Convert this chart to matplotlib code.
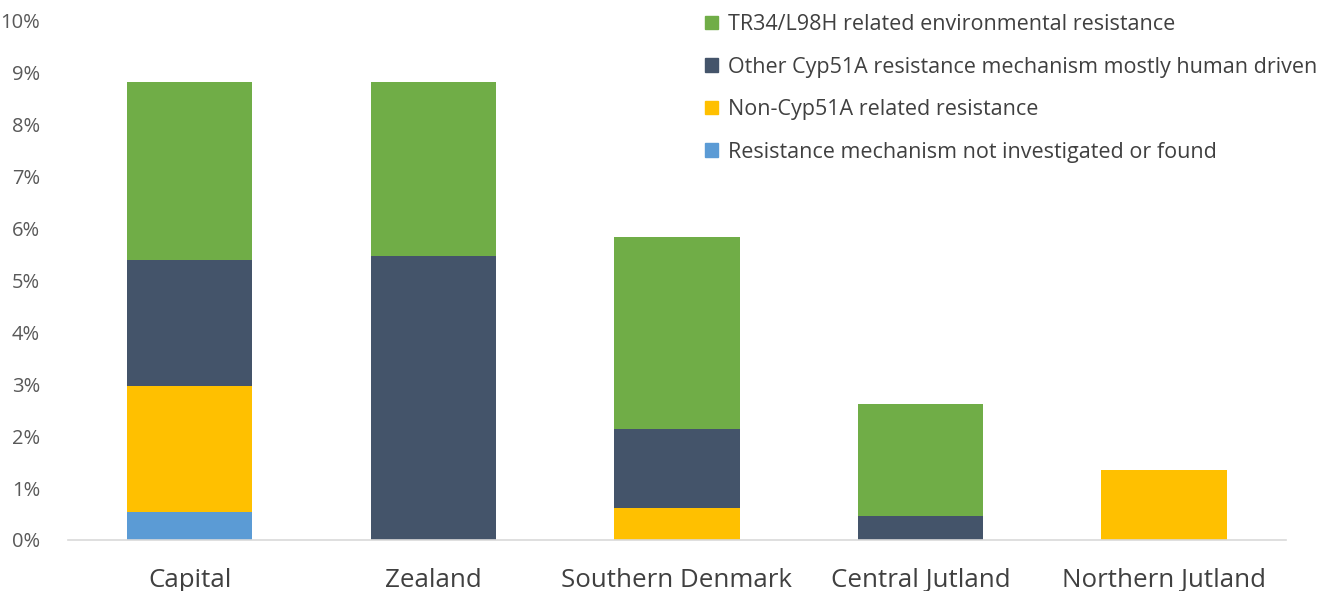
import matplotlib
matplotlib.use("Agg")
import matplotlib.pyplot as plt
import numpy as np
from matplotlib.patches import Patch

plt.rcParams['font.family'] = ['Open Sans', 'DejaVu Sans']

regions = ["Capital", "Zealand", "Southern Denmark", "Central Jutland", "Northern Jutland"]
not_investigated = [0.54, 0.0, 0.0, 0.0, 0.0]
non_cyp51a = [2.42, 0.0, 0.62, 0.0, 1.35]
other_cyp51a = [2.42, 5.47, 1.52, 0.46, 0.0]
tr34 = [3.42, 3.33, 3.68, 2.16, 0.0]

series = [
    ("Resistance mechanism not investigated or found", not_investigated, "#5B9BD5"),
    ("Non-Cyp51A related resistance", non_cyp51a, "#FFC000"),
    ("Other Cyp51A resistance mechanism mostly human driven", other_cyp51a, "#44546A"),
    ("TR34/L98H related environmental resistance", tr34, "#70AD47"),
]

fig = plt.figure(figsize=(13.38, 5.91), dpi=100)
ax = fig.add_axes([0.0508, 0.0863, 0.9102, 0.8797])

x = np.arange(len(regions))
bottom = np.zeros(len(regions))
for name, vals, col in series:
    v = np.array(vals)
    ax.bar(x, v, 0.515, bottom=bottom, color=col, label=name, zorder=2)
    bottom += v

ax.set_xlim(-0.5, 4.5)
ax.set_ylim(0, 10)
ax.set_yticks(np.arange(0, 11, 1))
ax.set_yticklabels([f"{i}%" for i in range(11)], fontsize=14.5, color="#595959")
ax.set_xticks(x)
ax.set_xticklabels(regions, fontsize=18.6, color="#404040")
ax.tick_params(axis='both', length=0)
ax.tick_params(axis='y', pad=20)
ax.tick_params(axis='x', pad=20)
for s in ["top", "right", "left"]:
    ax.spines[s].set_visible(False)
ax.spines["bottom"].set_color("#D9D9D9")
ax.spines["bottom"].set_linewidth(1.2)

handles = [Patch(color=c, label=n) for n, _, c in reversed(series)]
leg = ax.legend(handles=handles, loc="upper left", bbox_to_anchor=(0.507, 1.049),
                frameon=False, fontsize=15.5, handlelength=0.6, handleheight=0.6,
                handletextpad=0.5, labelspacing=1.0, labelcolor="#404040")

fig.savefig("out.png", dpi=100)
